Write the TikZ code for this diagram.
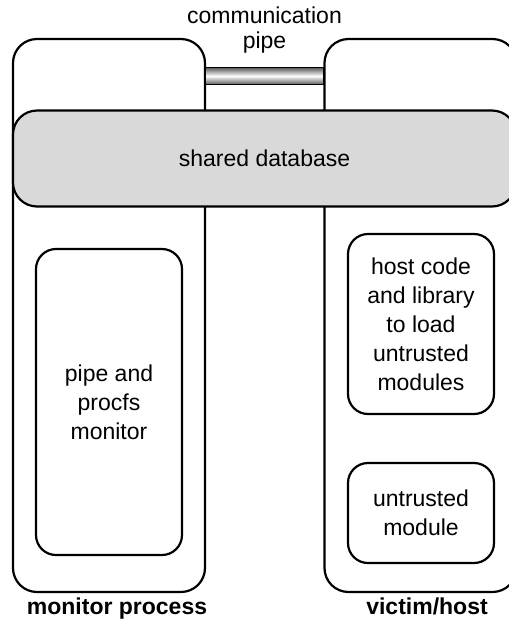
\documentclass[tikz,border=0pt]{standalone}
\usepackage{fontspec}
\setmainfont{Liberation Sans}
\begin{document}
\begin{tikzpicture}[x=1pt,y=-1pt,
  box/.style={draw=black, line width=2.2pt, rounded corners=24pt, inner sep=0pt},
  inbox/.style={draw=black, line width=2.2pt, rounded corners=20pt, inner sep=0pt, align=center,
    font=\fontsize{23}{29}\selectfont},
  lbl/.style={align=center, inner sep=0pt, font=\fontsize{23}{25}\selectfont},
  blbl/.style={inner sep=0pt, font=\bfseries\fontsize{23}{25}\selectfont, anchor=base}]
\useasboundingbox (0,0) rectangle (509,622);
\clip (0,0) rectangle (509,622);
% outer process boxes
\node[box, minimum width=192pt, minimum height=553pt] (mon) at (109,315.5) {};
\node[box, minimum width=192pt, minimum height=553pt] (vic) at (420.5,315.5) {};
% pipe
\node[draw=black, line width=1.6pt, inner sep=0pt, minimum width=119pt, minimum height=17pt,
  top color=black!65, bottom color=black!65, middle color=white] (pipe) at (264.5,76) {};
% shared database
\node[box, fill=black!15, minimum width=503pt, minimum height=96pt,
  font=\fontsize{23}{25}\selectfont] (db) at (264.5,158.5) {shared database};
% inner boxes
\node[inbox, minimum width=146pt, minimum height=306pt] (pm) at (109,402) {pipe and\\procfs\\monitor};
\node[inbox, minimum width=146pt, minimum height=180pt] (hc) at (421,324) {host code\\and library\\to load\\untrusted\\modules};
\node[inbox, minimum width=146pt, minimum height=100pt] (um) at (421,513) {untrusted\\module};
% labels
\node[lbl] (cp) at (264.5,30) {communication\\pipe};
\node[blbl] (ml) at (117,614) {monitor process};
\node[blbl] (vl) at (427,614) {victim/host};
\end{tikzpicture}
\end{document}
